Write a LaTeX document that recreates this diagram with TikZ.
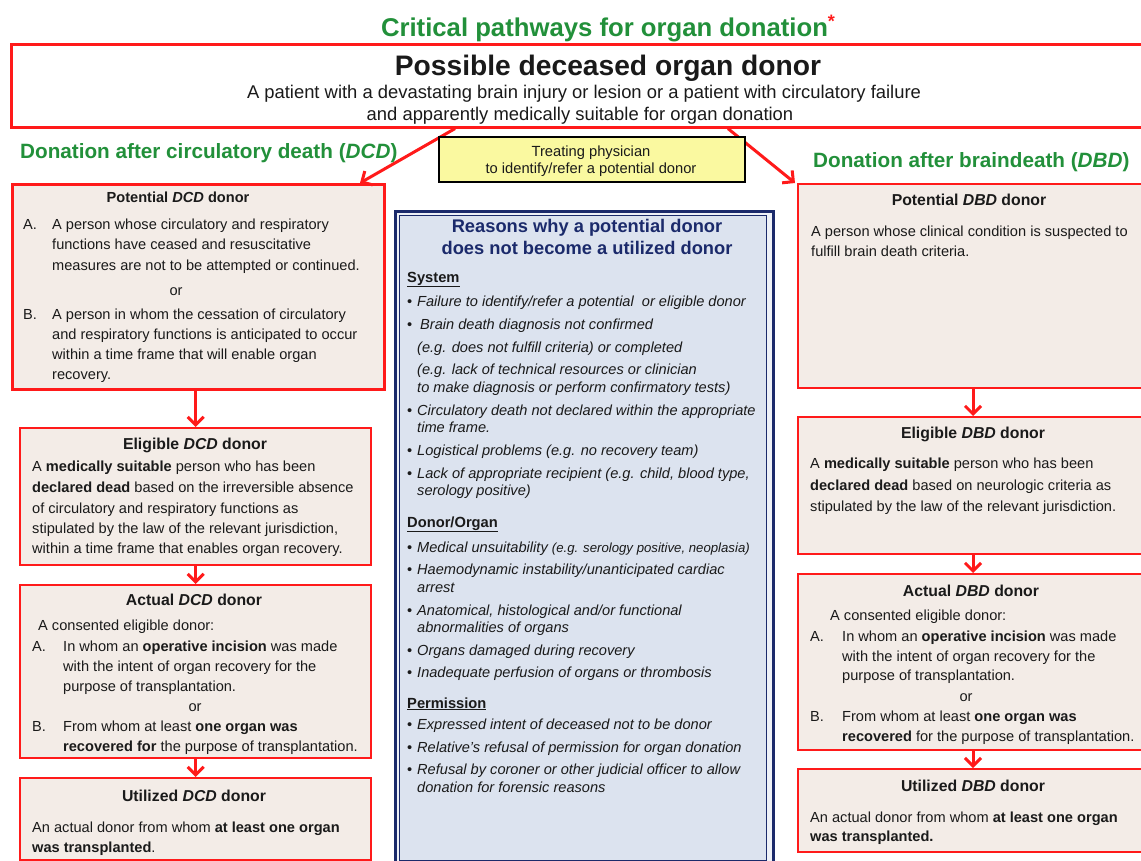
\documentclass[tikz,border=0pt]{standalone}
\usepackage{fontspec}
\setmainfont{Liberation Sans}
\usetikzlibrary{arrows.meta,calc}
\definecolor{myred}{HTML}{FF1A1A}
\definecolor{boxfill}{HTML}{F3ECE7}
\definecolor{navy}{HTML}{1B2A6B}
\definecolor{cfill}{HTML}{DCE3EF}
\definecolor{cgap}{HTML}{EEF1F7}
\definecolor{ttl}{HTML}{22903A}
\definecolor{yel}{HTML}{FAF9A0}
\definecolor{txt}{HTML}{1A1A1A}
\newcounter{lnc}
\newcommand\fs[1]{\fontsize{#1}{#1}\selectfont}
\newcommand\tl[4][]{\stepcounter{lnc}\node[txtl,#1] (ln\arabic{lnc}) at (#2,#3) {#4};}
\newcommand\tc[4][]{\stepcounter{lnc}\node[txtc,#1] (ln\arabic{lnc}) at (#2,#3) {#4};}
\tikzset{
  rbox/.style={draw=myred, line width=2.4pt, fill=boxfill, inner sep=0pt, anchor=north west},
  pbox/.style={rbox, line width=3pt},
  txtl/.style={inner sep=0pt, anchor=base west, text=txt, font=\fs{14.6}},
  txtc/.style={inner sep=0pt, anchor=base, text=txt, font=\fs{14.6}},
  hd/.style={txtc, font=\bfseries\fs{15.8}},
  it/.style={txtl, font=\itshape\fs{14.6}},
  sec/.style={txtl, font=\bfseries\fs{14.7}},
  flow/.style={draw=myred, line width=3pt, -{Straight Barb[length=8pt,width=16pt]}},
}
\begin{document}
\begin{tikzpicture}[x=1pt,y=-1pt]
\clip (0,0) rectangle (1141,860);
\fill[white] (0,0) rectangle (1141,860);

% title
\node[inner sep=0pt, anchor=base, text=ttl, font=\bfseries\fs{25.7}] (title) at (608,36) {Critical pathways for organ donation\textcolor{myred}{\raisebox{9pt}{\fs{18}*}}};

% top box
\node[draw=myred, line width=2.6pt, fill=white, minimum width=1150pt, minimum height=83pt, inner sep=0pt, anchor=north west] (top) at (10,43) {};
\tc[font=\bfseries\fs{28.2}]{608}{75}{Possible deceased organ donor}
\tc[font=\fs{18.4}]{584}{98}{A patient with a devastating brain injury or lesion or a patient with circulatory failure}
\tc[font=\fs{18.4}]{580}{120}{and apparently medically suitable for organ donation}

% pathway boxes (left)
\node[pbox, minimum width=372pt, minimum height=205pt] (pdcd) at (11,183) {};
\node[rbox, minimum width=351pt, minimum height=137pt] (edcd) at (19,427) {};
\node[rbox, minimum width=351pt, minimum height=173pt] (adcd) at (19,584) {};
\node[rbox, minimum width=351pt, minimum height=82pt] (udcd) at (19,777) {};
% right
\node[rbox, minimum width=360pt, minimum height=204pt] (pdbd) at (797,183) {};
\node[rbox, minimum width=360pt, minimum height=137pt] (edbd) at (797,416) {};
\node[rbox, minimum width=360pt, minimum height=176pt] (adbd) at (797,573) {};
\node[rbox, minimum width=360pt, minimum height=83pt] (udbd) at (797,768) {};

% diagonal arrows from top box
\draw[flow] ($(top.south west)+(445,0)$) -- ($(pdcd.north east)+(-26,0)$);
\draw[flow] ($(top.south west)+(718,0)$) -- ($(pdbd.north west)+(-2,0)$);

% yellow box
\node[draw=black, line width=2pt, fill=yel, minimum width=306pt, minimum height=45pt, inner sep=0pt, anchor=north west] (phys) at (438,136) {};
\tc[font=\fs{14.7}]{591}{156}{Treating physician}
\tc[font=\fs{14.7}]{591}{173}{to identify/refer a potential donor}

% green headings
\tl[font=\bfseries\fs{20.7}, text=ttl]{20}{158}{Donation after circulatory death (\textit{DCD})}
\tl[font=\bfseries\fs{20.7}, text=ttl]{813}{167}{Donation after braindeath (\textit{DBD})}

% vertical arrows
\draw[flow] (pdcd.south -| edcd.north) -- (edcd.north);
\draw[flow] (edcd.south) -- (adcd.north);
\draw[flow] (adcd.south) -- (udcd.north);
\draw[flow] (pdbd.south -| 973,0) -- (edbd.north -| 973,0);
\draw[flow] (edbd.south -| 973,0) -- (adbd.north -| 973,0);
\draw[flow] (adbd.south -| 973,0) -- (udbd.north -| 973,0);

% ---- left texts
\tc[hd, font=\bfseries\fs{14.6}]{178}{202}{Potential \textit{DCD} donor}
\tl{23}{229}{A.}
\tl{52}{229}{A person whose circulatory and respiratory}
\tl{52}{249}{functions have ceased and resuscitative}
\tl{52}{270}{measures are not to be attempted or continued.}
\tc{176}{295}{or}
\tl{23}{319}{B.}
\tl{52}{319}{A person in whom the cessation of circulatory}
\tl{52}{339}{and respiratory functions is anticipated to occur}
\tl{52}{359}{within a time frame that will enable organ}
\tl{52}{379}{recovery.}

\tc[hd]{195}{449}{Eligible \textit{DCD} donor}
\tl{32}{471}{A \textbf{medically suitable} person who has been}
\tl{32}{492}{\textbf{declared dead} based on the irreversible absence}
\tl{32}{513}{of circulatory and respiratory functions as}
\tl{32}{533}{stipulated by the law of the relevant jurisdiction,}
\tl{32}{553}{within a time frame that enables organ recovery.}

\tc[hd]{194}{605}{Actual \textit{DCD} donor}
\tl{38}{630}{A consented eligible donor:}
\tl{32}{651}{A.}
\tl{63}{651}{In whom an \textbf{operative incision} was made}
\tl{63}{671}{with the intent of organ recovery for the}
\tl{63}{691}{purpose of transplantation.}
\tc{195}{711}{or}
\tl{32}{731}{B.}
\tl{63}{731}{From whom at least \textbf{one organ was}}
\tl{63}{751}{\textbf{recovered for} the purpose of transplantation.}

\tc[hd]{194}{801}{Utilized \textit{DCD} donor}
\tl{32}{832}{An actual donor from whom \textbf{at least one organ}}
\tl{32}{852}{\textbf{was transplanted}.}

% ---- right texts
\tc[hd]{969}{205}{Potential \textit{DBD} donor}
\tl{811}{236}{A person whose clinical condition is suspected to}
\tl{811}{256}{fulfill brain death criteria.}

\tc[hd]{973}{438}{Eligible \textit{DBD} donor}
\tl{810}{468}{A \textbf{medically suitable} person who has been}
\tl{810}{490}{\textbf{declared dead} based on neurologic criteria as}
\tl{810}{511}{stipulated by the law of the relevant jurisdiction.}

\tc[hd]{971}{596}{Actual \textit{DBD} donor}
\tl{830}{620}{A consented eligible donor:}
\tl{810}{641}{A.}
\tl{842}{641}{In whom an \textbf{operative incision} was made}
\tl{842}{661}{with the intent of organ recovery for the}
\tl{842}{680}{purpose of transplantation.}
\tc{966}{701}{or}
\tl{810}{721}{B.}
\tl{842}{721}{From whom at least \textbf{one organ was}}
\tl{842}{741}{\textbf{recovered} for the purpose of transplantation.}

\tc[hd]{973}{791}{Utilized \textit{DBD} donor}
\tl{810}{822}{An actual donor from whom \textbf{at least one organ}}
\tl{810}{841}{\textbf{was transplanted.}}

% ---- centre box
\node[draw=navy, line width=3pt, fill=cgap, minimum width=378pt, minimum height=652pt, inner sep=0pt, anchor=north west] (rsn) at (393.5,209.5) {};
\node[draw=navy, line width=1.4pt, fill=cfill, minimum width=367pt, minimum height=645pt, inner sep=0pt, anchor=north west] (rsnin) at (399,215) {};
\tc[font=\bfseries\fs{18.3}, text=navy]{587}{232}{Reasons why a potential donor}
\tc[font=\bfseries\fs{18.3}, text=navy]{587}{254}{does not become a utilized donor}

\tl[sec]{407}{282}{\underline{System}}
\tl[it]{407}{306}{\upshape\textbullet}\tl[it]{417}{306}{Failure to identify/refer a potential\ \ or eligible donor}
\tl[it]{407}{329}{\upshape\textbullet}\tl[it]{420}{329}{Brain death diagnosis not confirmed}
\tl[it]{417}{352}{(e.g. does not fulfill criteria) or completed}
\tl[it]{417}{374}{(e.g. lack of technical resources or clinician}
\tl[it]{417}{392}{to make diagnosis or perform confirmatory tests)}
\tl[it]{407}{415}{\upshape\textbullet}\tl[it]{417}{415}{Circulatory death not declared within the appropriate}
\tl[it]{417}{432}{time frame.}
\tl[it]{407}{455}{\upshape\textbullet}\tl[it]{417}{455}{Logistical problems (e.g. no recovery team)}
\tl[it]{407}{478}{\upshape\textbullet}\tl[it]{417}{478}{Lack of appropriate recipient (e.g. child, blood type,}
\tl[it]{417}{495}{serology positive)}

\tl[sec]{407}{527}{\underline{Donor/Organ}}
\tl[it]{407}{552}{\upshape\textbullet}\tl[it]{417}{552}{Medical unsuitability {\fs{13.2}(e.g. serology positive, neoplasia)}}
\tl[it]{407}{574}{\upshape\textbullet}\tl[it]{417}{574}{Haemodynamic instability/unanticipated cardiac}
\tl[it]{417}{592}{arrest}
\tl[it]{407}{615}{\upshape\textbullet}\tl[it]{417}{615}{Anatomical, histological and/or functional}
\tl[it]{417}{632}{abnormalities of organs}
\tl[it]{407}{655}{\upshape\textbullet}\tl[it]{417}{655}{Organs damaged during recovery}
\tl[it]{407}{677}{\upshape\textbullet}\tl[it]{417}{677}{Inadequate perfusion of organs or thrombosis}

\tl[sec]{407}{708}{\underline{Permission}}
\tl[it]{407}{729}{\upshape\textbullet}\tl[it]{417}{729}{Expressed intent of deceased not to be donor}
\tl[it]{407}{752}{\upshape\textbullet}\tl[it]{417}{752}{Relative’s refusal of permission for organ donation}
\tl[it]{407}{774}{\upshape\textbullet}\tl[it]{417}{774}{Refusal by coroner or other judicial officer to allow}
\tl[it]{417}{792}{donation for forensic reasons}
\end{tikzpicture}
\end{document}
